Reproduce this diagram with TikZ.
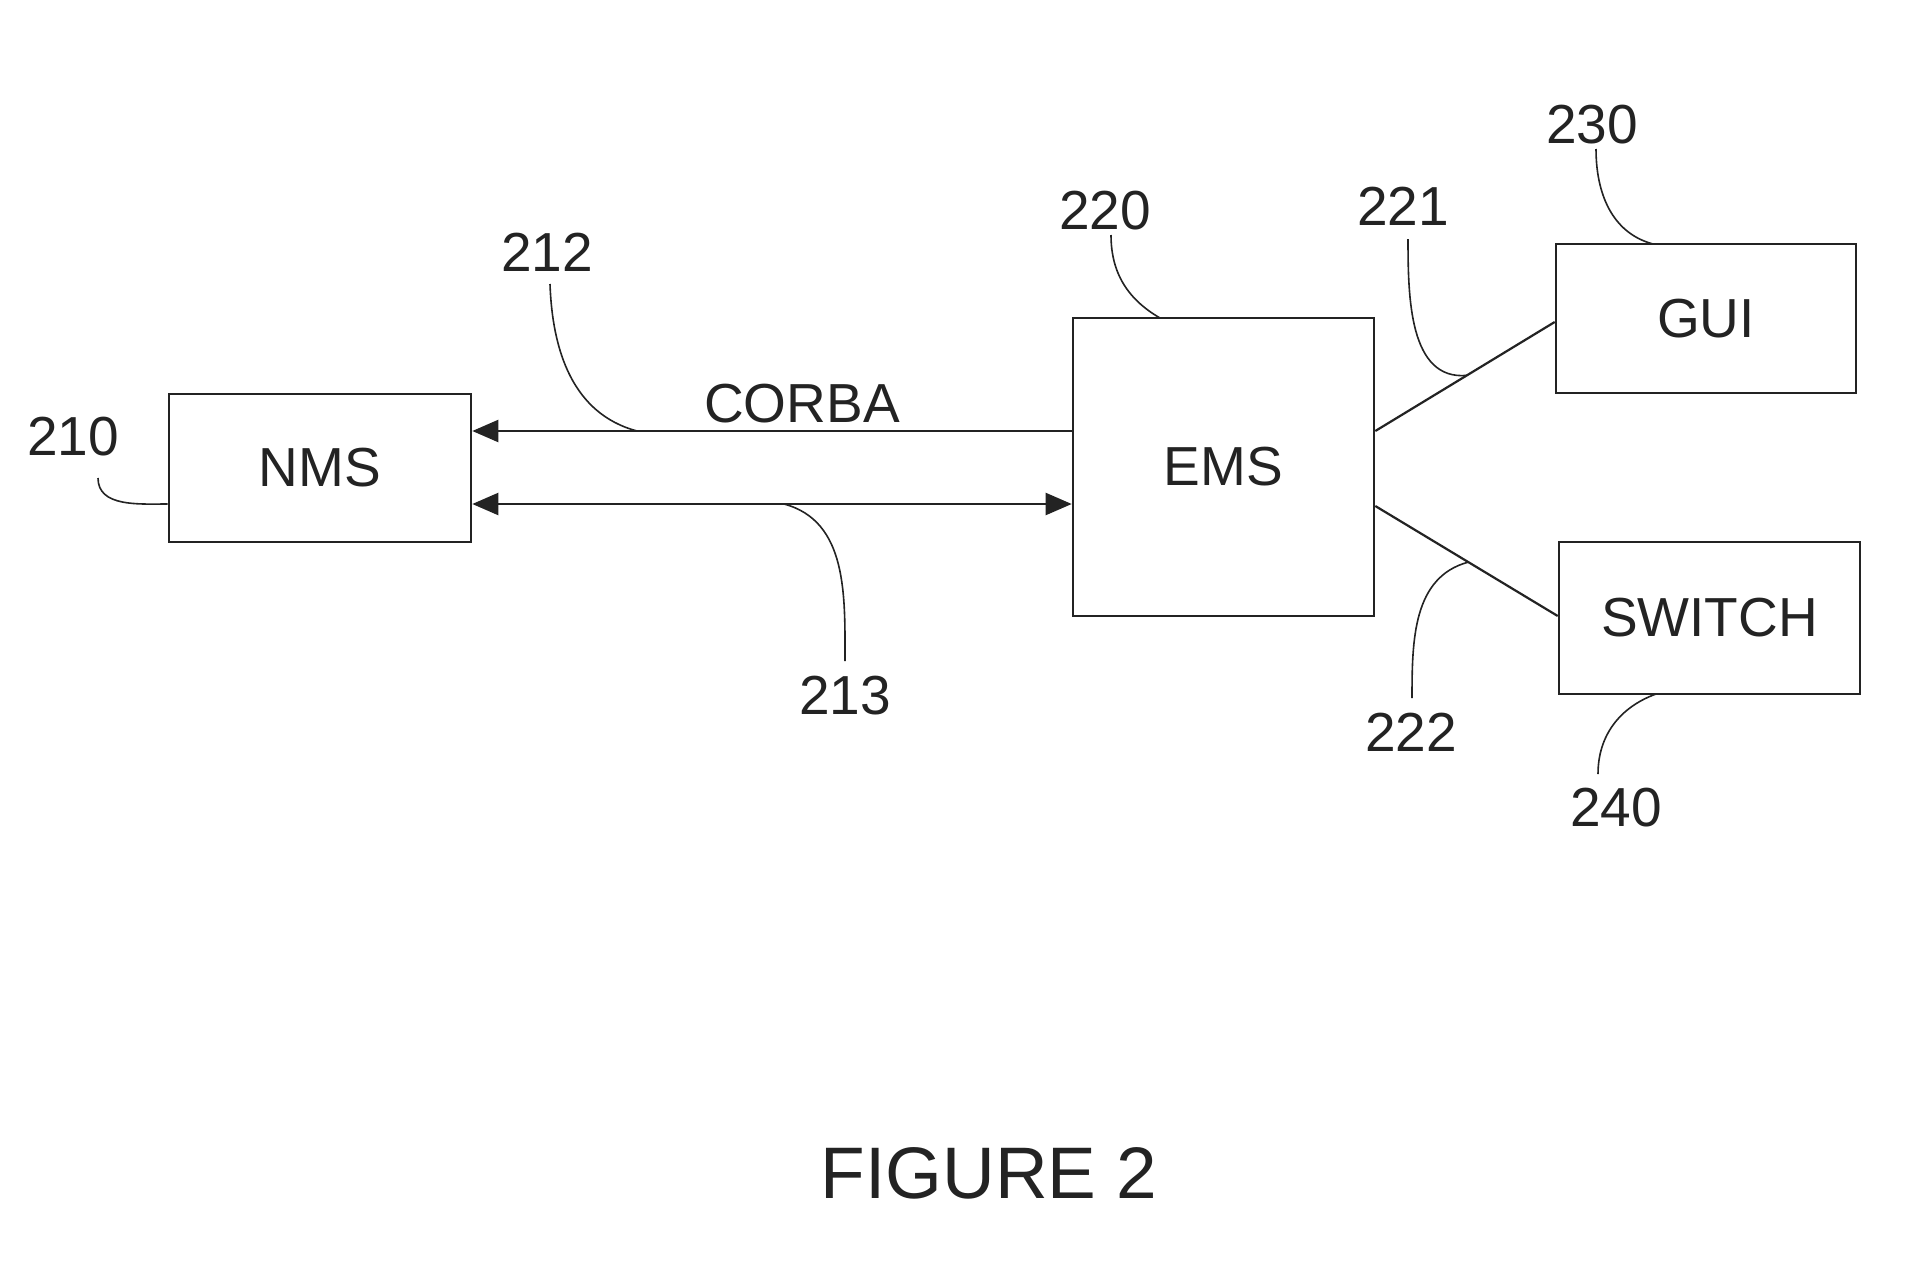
\documentclass[tikz,border=0pt]{standalone}
\usepackage{fontspec}
\setmainfont{Liberation Sans}
\usetikzlibrary{arrows.meta,calc}
\definecolor{ink}{RGB}{35,35,35}
\begin{document}
\begin{tikzpicture}[x=0.5pt,y=-0.5pt,
  box/.style={draw=ink,line width=1.3pt,inner sep=0pt,font=\fontsize{27.5}{33}\selectfont,text=ink},
  lbl/.style={inner sep=0pt,font=\fontsize{27.5}{33}\selectfont,text=ink},
  wire/.style={draw=ink,line width=1.1pt},
  lead/.style={draw=ink,line width=0.8pt},
  tip/.style={-{Triangle[length=13pt,width=11pt]}},
  dtip/.style={{Triangle[length=13pt,width=11pt]}-{Triangle[length=13pt,width=11pt]}}]
\useasboundingbox[fill=white] (0,0) rectangle (1920,1285);
% boxes
\node[box,minimum width=151pt,minimum height=74pt] (nms) at (320,468) {NMS};
\node[box,minimum width=150.5pt,minimum height=149pt] (ems) at (1223.5,467) {EMS};
\node[box,minimum width=150pt,minimum height=74.5pt] (gui) at (1706,318.5) {GUI};
\node[box,minimum width=150.5pt,minimum height=76pt] (sw) at (1709.5,618) {SWITCH};
% connector levels
\coordinate (ya) at (0,431);
\coordinate (yb) at (0,504);
\draw[wire,tip] (ems.west |- ya) -- (nms.east |- ya);
\draw[wire,dtip] (nms.east |- yb) -- (ems.west |- yb);
\coordinate (e1) at (ems.east |- 0,431);
\coordinate (e2) at (ems.east |- 0,506);
\coordinate (g1) at (gui.west |- 0,322);
\coordinate (s1) at (sw.west |- 0,616);
\draw[wire] (e1) -- (g1);
\draw[wire] (e2) -- (s1);
% texts
\node[lbl] (corba) at (802,404) {CORBA};
\node[lbl] (l210) at (73,437) {210};
\node[lbl] (l212) at (547,252) {212};
\node[lbl] (l213) at (845,696) {213};
\node[lbl] (l220) at (1105,211) {220};
\node[lbl] (l221) at (1403,206) {221};
\node[lbl] (l222) at (1411,732) {222};
\node[lbl] (l230) at (1592,125) {230};
\node[lbl] (l240) at (1616,808) {240};
\node[inner sep=0pt,font=\fontsize{36.5}{44}\selectfont,text=ink] (fig) at (989,1173) {FIGURE 2};
% leader lines
\coordinate (c210) at (98,478);
\coordinate (c212) at (550,284);
\coordinate (c213) at (845,661);
\coordinate (c220) at (1111,235);
\coordinate (c221) at (1408,239);
\coordinate (c222) at (1412,698);
\coordinate (c230) at (1596,149);
\coordinate (c240) at (1598,774);
\coordinate (p221) at ($(e1)!0.51!(g1)$);
\coordinate (p222) at ($(e2)!0.51!(s1)$);
\draw[lead] (c210) to[out=-90,in=180] (nms.west |- 0,504);
\draw[lead] (c212) to[out=-88,in=165] (637,431);
\draw[lead] (784,504) to[out=-15,in=90] (c213);
\draw[lead] (c220) to[out=-90,in=150] (1160,318);
\draw[lead] (c221) to[out=-90,in=185] (p221);
\draw[lead] (c222) to[out=90,in=195] (p222);
\draw[lead] (c230) to[out=-90,in=165] (1653,244);
\draw[lead] (c240) to[out=90,in=200] (1656,694);
\end{tikzpicture}
\end{document}
